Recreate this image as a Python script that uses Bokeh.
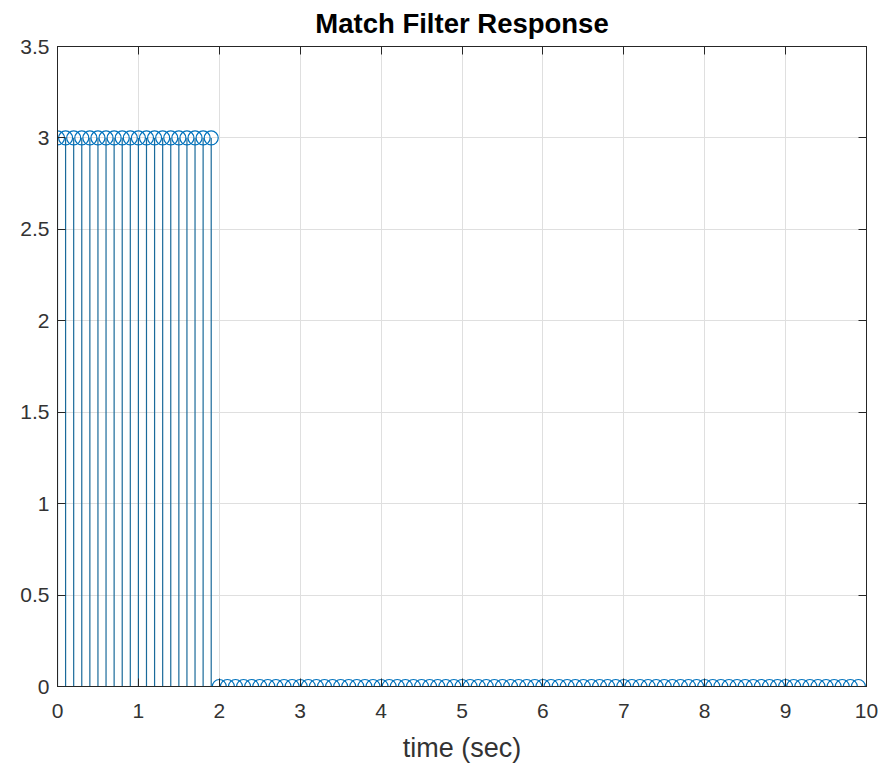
from bokeh.plotting import figure
from bokeh.models import LinearAxis, FixedTicker, Range1d
from bokeh.embed import file_html
from bokeh.resources import INLINE

# Data: stem samples (time in seconds, response amplitude)
t = [0.0, 0.1, 0.2, 0.3, 0.4, 0.5, 0.6, 0.7, 0.8, 0.9,
     1.0, 1.1, 1.2, 1.3, 1.4, 1.5, 1.6, 1.7, 1.8, 1.9,
     2.0, 2.1, 2.2, 2.3, 2.4, 2.5, 2.6, 2.7, 2.8, 2.9,
     3.0, 3.1, 3.2, 3.3, 3.4, 3.5, 3.6, 3.7, 3.8, 3.9,
     4.0, 4.1, 4.2, 4.3, 4.4, 4.5, 4.6, 4.7, 4.8, 4.9,
     5.0, 5.1, 5.2, 5.3, 5.4, 5.5, 5.6, 5.7, 5.8, 5.9,
     6.0, 6.1, 6.2, 6.3, 6.4, 6.5, 6.6, 6.7, 6.8, 6.9,
     7.0, 7.1, 7.2, 7.3, 7.4, 7.5, 7.6, 7.7, 7.8, 7.9,
     8.0, 8.1, 8.2, 8.3, 8.4, 8.5, 8.6, 8.7, 8.8, 8.9,
     9.0, 9.1, 9.2, 9.3, 9.4, 9.5, 9.6, 9.7, 9.8, 9.9]
response = [3, 3, 3, 3, 3, 3, 3, 3, 3, 3,
            3, 3, 3, 3, 3, 3, 3, 3, 3, 3,
            0, 0, 0, 0, 0, 0, 0, 0, 0, 0,
            0, 0, 0, 0, 0, 0, 0, 0, 0, 0,
            0, 0, 0, 0, 0, 0, 0, 0, 0, 0,
            0, 0, 0, 0, 0, 0, 0, 0, 0, 0,
            0, 0, 0, 0, 0, 0, 0, 0, 0, 0,
            0, 0, 0, 0, 0, 0, 0, 0, 0, 0,
            0, 0, 0, 0, 0, 0, 0, 0, 0, 0,
            0, 0, 0, 0, 0, 0, 0, 0, 0, 0]
baseline = [0] * len(t)

x_ticks = [0, 1, 2, 3, 4, 5, 6, 7, 8, 9, 10]
x_tick_labels = ["0", "1", "2", "3", "4", "5", "6", "7", "8", "9", "10"]
y_ticks = [0, 0.5, 1, 1.5, 2, 2.5, 3, 3.5]
y_tick_labels = ["0", "0.5", "1", "1.5", "2", "2.5", "3", "3.5"]

BLUE = "#0072BD"
DARK = "#262626"
FONT = "Liberation Sans"

p = figure(width=888, height=769, output_backend="svg", toolbar_location=None,
           x_range=Range1d(0, 10), y_range=Range1d(0, 3.5),
           min_border_left=57, min_border_right=22, min_border_top=46,
           min_border_bottom=83, title="Match Filter Response")

p.title.align = "center"
p.title.text_font = FONT
p.title.text_font_size = "27.5px"
p.title.text_font_style = "bold"
p.title.text_color = "#000000"
p.title.offset = 0
p.title.standoff = 12
p.title.vertical_align = "top"

p.outline_line_color = DARK
p.outline_line_width = 1
p.background_fill_color = "white"
p.border_fill_color = "white"

p.xgrid.ticker = FixedTicker(ticks=x_ticks)
p.ygrid.ticker = FixedTicker(ticks=y_ticks)
p.xgrid.grid_line_color = "#dfdfdf"
p.ygrid.grid_line_color = "#dfdfdf"

xa = p.xaxis[0]
xa.ticker = FixedTicker(ticks=x_ticks)
xa.major_label_overrides = {v: s for v, s in zip(x_ticks, x_tick_labels)}
xa.axis_label = "time (sec)"
ya = p.yaxis[0]
ya.ticker = FixedTicker(ticks=y_ticks)
ya.major_label_overrides = {v: s for v, s in zip(y_ticks, y_tick_labels)}

for ax in (xa, ya):
    ax.axis_line_color = DARK
    ax.major_tick_line_color = DARK
    ax.major_tick_in = 8
    ax.major_tick_out = 0
    ax.minor_tick_line_color = None
    ax.major_label_text_font = FONT
    ax.major_label_text_font_size = "21px"
    ax.major_label_text_color = "#333333"
    ax.axis_label_text_font = FONT
    ax.axis_label_text_font_size = "27px"
    ax.axis_label_text_font_style = "normal"
    ax.axis_label_text_color = "#333333"

xa.major_label_standoff = 17
xa.axis_label_standoff = 12
ya.major_label_standoff = 8

# mirrored tick marks on top and right (box on)
top = LinearAxis(ticker=FixedTicker(ticks=x_ticks))
right = LinearAxis(ticker=FixedTicker(ticks=y_ticks))
for ax in (top, right):
    ax.axis_line_color = DARK
    ax.major_tick_line_color = DARK
    ax.major_tick_in = 8
    ax.major_tick_out = 0
    ax.minor_tick_line_color = None
    ax.major_label_text_font_size = "0px"
    ax.major_label_text_alpha = 0
    ax.major_label_standoff = 0
p.add_layout(top, "above")
p.add_layout(right, "right")

p.segment(x0=t, y0=baseline, x1=t, y1=response, line_color="#1a6a9a", line_width=1.2)
p.scatter(t, response, size=14, marker="circle", fill_color=None,
          line_color=BLUE, line_width=1.2)

open("out.html", "w").write(file_html(p, INLINE))
